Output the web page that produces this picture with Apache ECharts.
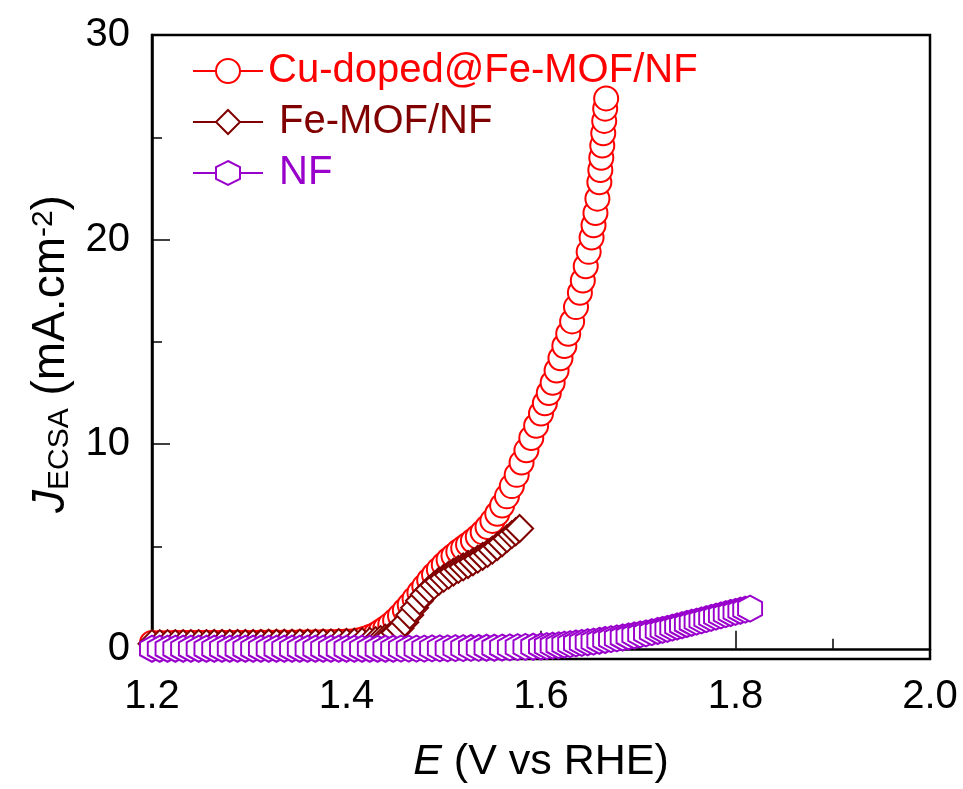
<!DOCTYPE html>
<html>
<head>
<meta charset="utf-8">
<script src="https://cdn.jsdelivr.net/npm/echarts@6/dist/echarts.min.js"></script>
<style>
  html, body { margin: 0; padding: 0; background: #fff; }
  #chart { width: 963px; height: 789px; }
</style>
</head>
<body>
<div id="chart"></div>
<script>
// ---- Data ----
const seriesNames = ['Cu-doped@Fe-MOF/NF', 'Fe-MOF/NF', 'NF'];
const seriesColors = ['#ff0000', '#800000', '#9900cc'];

const cuX = [1.200,1.208,1.216,1.224,1.232,1.240,1.248,1.256,1.264,1.272,1.280,1.288,1.296,1.304,1.312,1.320,1.328,1.336,1.344,1.352,1.360,1.368,1.376,1.384,1.392,1.400,
  1.406,1.412,1.418,1.424,1.430,1.435,1.440,1.445,1.450,1.455,1.460,1.465,1.470,1.475,1.480,1.485,1.490,1.495,1.500,1.505,1.510,1.515,1.520,1.525,1.530,1.535,1.540,1.545,1.550,1.555,1.560,1.565,1.570,1.575,1.580,1.585,1.590,1.595,1.600,
  1.604,1.608,1.612,1.616,1.620,1.624,1.628,1.632,1.636,1.640,1.643,1.646,1.649,1.652,1.654,1.656,1.658,1.660,1.661,1.662,1.663,1.664,1.665,1.666,1.667];
const cuY = [0.28,0.28,0.28,0.29,0.29,0.29,0.29,0.29,0.30,0.30,0.30,0.30,0.30,0.30,0.31,0.31,0.31,0.31,0.31,0.32,0.32,0.32,0.33,0.33,0.34,0.35,
  0.36,0.40,0.48,0.58,0.70,0.84,1.00,1.18,1.38,1.62,1.88,2.15,2.45,2.75,3.05,3.35,3.62,3.88,4.12,4.35,4.55,4.75,4.92,5.10,5.28,5.48,5.70,5.95,6.25,6.60,7.00,7.45,7.95,8.50,9.10,9.70,10.3,10.9,11.5,
  12.0,12.5,13.0,13.6,14.2,14.8,15.4,16.0,16.7,17.4,18.0,18.7,19.4,20.1,20.7,21.3,22.0,22.8,23.4,24.0,24.6,25.2,25.8,26.4,26.9];

const feX = [1.200,1.208,1.216,1.224,1.232,1.240,1.248,1.256,1.264,1.272,1.280,1.288,1.296,1.304,1.312,1.320,1.328,1.336,1.344,1.352,1.360,1.368,1.376,1.384,1.392,1.400,1.408,1.416,1.424,
  1.430,1.435,1.440,1.445,1.450,1.455,1.460,1.465,1.470,1.475,1.480,1.485,1.490,1.495,1.500,1.505,1.510,1.515,1.520,1.525,1.530,1.535,1.540,1.545,1.550,1.555,1.560,1.565,1.570,1.574,1.578];
const feY = [0.25,0.25,0.25,0.25,0.25,0.25,0.25,0.25,0.26,0.26,0.26,0.26,0.26,0.26,0.26,0.27,0.27,0.27,0.27,0.28,0.28,0.28,0.29,0.29,0.30,0.31,0.32,0.34,0.36,
  0.40,0.45,0.52,0.62,0.78,1.00,1.30,1.65,2.00,2.35,2.65,2.90,3.10,3.30,3.45,3.60,3.75,3.88,4.00,4.12,4.25,4.38,4.52,4.66,4.82,5.00,5.18,5.38,5.58,5.72,5.88];

const nfX = [1.200,1.208,1.216,1.224,1.232,1.240,1.248,1.256,1.264,1.272,1.280,1.288,1.296,1.304,1.312,1.320,1.328,1.336,1.344,1.352,1.360,1.368,1.376,1.384,1.392,1.400,
  1.408,1.416,1.424,1.432,1.440,1.448,1.456,1.464,1.472,1.480,1.488,1.496,1.504,1.512,1.520,1.528,1.536,1.544,1.552,1.560,1.568,1.576,1.584,1.592,1.600,
  1.606,1.612,1.618,1.624,1.630,1.636,1.642,1.648,1.654,1.660,1.666,1.672,1.678,1.684,1.690,1.696,1.702,1.708,1.714,1.720,
  1.725,1.730,1.735,1.740,1.745,1.750,1.755,1.760,1.765,1.770,1.775,1.780,1.785,1.790,1.795,1.800,1.805,1.810,1.815];
const nfY = [0.00,0.00,0.00,0.00,0.00,0.00,0.00,0.00,0.00,0.00,0.00,0.00,0.00,0.00,0.00,0.00,0.00,0.00,0.00,0.00,0.00,0.00,0.00,0.00,0.00,0.00,
  0.00,0.00,0.00,0.00,0.00,0.00,0.01,0.01,0.01,0.01,0.02,0.02,0.02,0.03,0.03,0.04,0.04,0.05,0.05,0.06,0.07,0.08,0.09,0.10,0.11,
  0.13,0.15,0.17,0.20,0.23,0.26,0.29,0.32,0.35,0.39,0.43,0.47,0.51,0.55,0.60,0.65,0.70,0.75,0.81,0.87,
  0.92,0.97,1.03,1.09,1.15,1.21,1.27,1.33,1.39,1.45,1.51,1.57,1.63,1.69,1.75,1.80,1.86,1.91,1.96];

const xRange = { min: 1.2, max: 2.0, interval: 0.2 };
const yRange = { min: -0.5, max: 30 };
const yMajorTicks = [0, 10, 20, 30];
const yMinorTicks = [5, 15, 25];

const hexPath = 'path://M0,-1L0.866,-0.5L0.866,0.5L0,1L-0.866,0.5L-0.866,-0.5Z';
const symbols = ['circle', 'diamond', hexPath];
const symbolSizes = [24, 27, [24, 26]];

function pairs(xs, ys) { return xs.map((x, i) => [x, ys[i]]); }
const seriesData = [pairs(cuX, cuY), pairs(feX, feY), pairs(nfX, nfY)];

const FONT = '"Liberation Sans", Arial, sans-serif';
const TICK_FS = 40, TITLE_FS = 43, YTITLE_FS = 46, LEGEND_FS = 40;

const chart = echarts.init(document.getElementById('chart'), null, { renderer: 'canvas' });

const option = {
  backgroundColor: '#fff',
  animation: false,
  grid: { left: 152, right: 33, top: 35, bottom: 129, show: true, borderColor: '#000', borderWidth: 2.5, backgroundColor: 'transparent' },
  legend: {
    left: 192, top: 51, orient: 'vertical', padding: 0,
    itemWidth: 70, itemHeight: 30, itemGap: 11,
    textStyle: { fontFamily: FONT, fontSize: LEGEND_FS },
    data: seriesNames.map((n, i) => ({ name: n, textStyle: { color: seriesColors[i] } })),
    formatter: n => (n === seriesNames[0] ? n : ' ' + n)
  },
  xAxis: {
    type: 'value', min: xRange.min, max: xRange.max, interval: xRange.interval,
    axisLine: { lineStyle: { color: '#000', width: 2.5 } },
    axisTick: { inside: true, length: 18, lineStyle: { color: '#000', width: 1.5 } },
    minorTick: { show: true, splitNumber: 2, length: 10, lineStyle: { color: '#000', width: 1.5 } },
    splitLine: { show: false },
    axisLabel: { color: '#000', fontFamily: FONT, fontSize: TICK_FS, margin: 18, formatter: v => v.toFixed(1) },
    name: '{i|E} (V vs RHE)', nameLocation: 'middle', nameGap: 82,
    nameTextStyle: { color: '#000', fontFamily: FONT, fontSize: TITLE_FS, rich: { i: { fontStyle: 'italic', fontFamily: FONT, fontSize: TITLE_FS, color: '#000' } } }
  },
  yAxis: [{
    type: 'value', min: yRange.min, max: yRange.max,
    axisLine: { lineStyle: { color: '#000', width: 2.5 } },
    axisTick: { inside: true, length: 18, customValues: yMajorTicks, lineStyle: { color: '#000', width: 1.5 } },
    splitLine: { show: false },
    axisLabel: { color: '#000', fontFamily: FONT, fontSize: TICK_FS, margin: 22, customValues: yMajorTicks },
    name: '{i|J}{sub|ECSA}{n| (mA.cm}{sup|-2}{n|)}', nameLocation: 'middle', nameGap: 76, nameRotate: 90,
    nameTextStyle: {
      color: '#000', fontFamily: FONT, fontSize: YTITLE_FS, padding: [0, 14, 0, 0],
      rich: {
        i: { fontStyle: 'italic', fontFamily: FONT, fontSize: YTITLE_FS, color: '#000' },
        n: { fontFamily: FONT, fontSize: YTITLE_FS, color: '#000' },
        sub: { fontFamily: FONT, fontSize: 30, color: '#000', verticalAlign: 'bottom', padding: [15, 0, 0, 0] },
        sup: { fontFamily: FONT, fontSize: 30, color: '#000', verticalAlign: 'top', padding: [0, 0, 13, 0] }
      }
    }
  }, {
    type: 'value', min: yRange.min, max: yRange.max, position: 'left',
    axisLine: { show: false },
    axisTick: { inside: true, length: 10, customValues: yMinorTicks, lineStyle: { color: '#000', width: 1.5 } },
    axisLabel: { show: false },
    splitLine: { show: false }
  }],
  series: seriesNames.map((n, i) => ({
    name: n, type: 'line', data: seriesData[i], yAxisIndex: 0,
    symbol: symbols[i], symbolSize: symbolSizes[i], showAllSymbol: true,
    clip: true,
    lineStyle: { color: seriesColors[i], width: 1.5 },
    itemStyle: { color: '#fff', borderColor: seriesColors[i], borderWidth: 2 },
    color: seriesColors[i],
    z: 2 + i
  }))
};
chart.setOption(option);
</script>
</body>
</html>
